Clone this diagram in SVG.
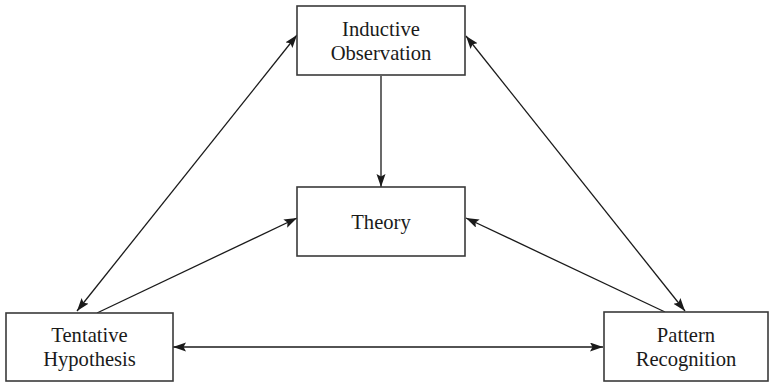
<svg xmlns="http://www.w3.org/2000/svg" width="769" height="382" viewBox="0 0 769 382">
  <style>
    .box { fill: #ffffff; stroke: #3a3a3a; stroke-width: 1.6; }
    .lbl { font-family: "Liberation Serif", "Times New Roman", serif; font-size: 20.6px; fill: #1a1a1a; text-anchor: middle; }
    .edge { stroke: #1a1a1a; stroke-width: 1.3; fill: none; }
    .one { marker-end: url(#head); }
    .both { marker-start: url(#head); marker-end: url(#head); }
  </style>
  <defs>
    <marker id="head" markerUnits="userSpaceOnUse" markerWidth="14" markerHeight="10" refX="13" refY="4.5" orient="auto-start-reverse">
      <path d="M0,0 L13,4.5 L0,9 L2.5,4.5 z" fill="#1a1a1a"/>
    </marker>
  </defs>
  <rect width="769" height="382" fill="#ffffff"/>

  <g id="connectors">
    <line class="edge both" x1="77" y1="311" x2="297" y2="35"/>
    <line class="edge one" x1="97" y1="313" x2="297" y2="218"/>
    <line class="edge one" x1="665" y1="312" x2="466" y2="218"/>
    <line class="edge both" x1="466" y1="36" x2="685" y2="311"/>
    <line class="edge one" x1="381" y1="76" x2="381" y2="187"/>
    <line class="edge both" x1="173" y1="347" x2="603" y2="347"/>
  </g>

  <g id="inductive-observation">
    <rect class="box" x="297" y="6" width="168" height="69"/>
    <text class="lbl" x="381" y="36">Inductive</text>
    <text class="lbl" x="381" y="60">Observation</text>
  </g>

  <g id="theory">
    <rect class="box" x="297" y="187" width="168" height="69"/>
    <text class="lbl" x="381" y="229">Theory</text>
  </g>

  <g id="tentative-hypothesis">
    <rect class="box" x="6" y="313" width="167" height="68"/>
    <text class="lbl" x="89.5" y="342">Tentative</text>
    <text class="lbl" x="89.5" y="366">Hypothesis</text>
  </g>

  <g id="pattern-recognition">
    <rect class="box" x="604" y="312" width="164" height="69"/>
    <text class="lbl" x="686" y="342">Pattern</text>
    <text class="lbl" x="686" y="366">Recognition</text>
  </g>
</svg>
